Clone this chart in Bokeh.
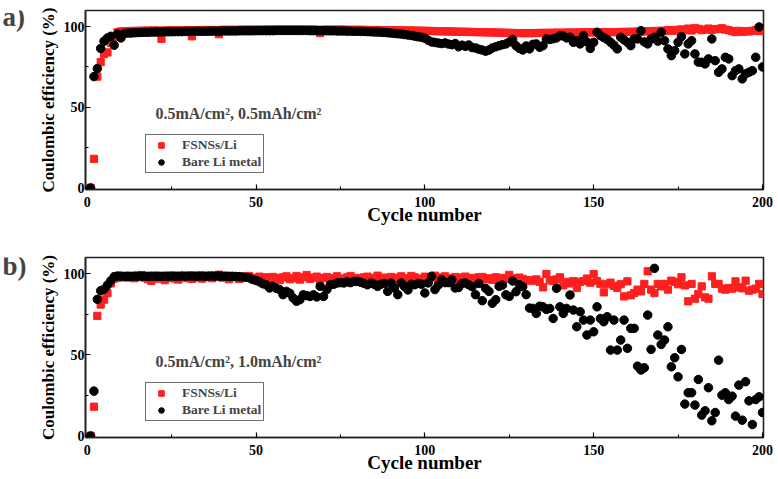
from bokeh.plotting import figure
from bokeh.layouts import column, row
from bokeh.models import Range1d, SingleIntervalTicker, Label
from bokeh.embed import file_html
from bokeh.resources import INLINE

cycles = list(range(1, 201))
x_ticks_interval = 50
y_ticks_interval = 50
series_names = ["FSNSs/Li", "Bare Li metal"]
conditions = ["0.5mA/cm\u00b2, 0.5mAh/cm\u00b2", "0.5mA/cm\u00b2, 1.0mAh/cm\u00b2"]
panel_tags = ["a)", "b)"]

# Panel a) FSNSs/Li
a_fsns = [
    0, 18, 69, 78, 83, 84, 90, 93.5, 96.5, 97.0,
    97.1, 97.2, 97.3, 97.3, 97.4, 97.4, 97.5, 97.5, 97.5, 97.6,
    97.6, 92.4, 97.6, 97.7, 97.7, 97.7, 97.7, 97.8, 97.8, 97.8,
    94.0, 97.8, 97.8, 97.9, 97.9, 97.9, 97.9, 97.9, 95.3, 98.0,
    98.0, 98.0, 98.0, 98.0, 98.0, 98.1, 98.1, 98.1, 98.1, 98.1,
    98.1, 98.1, 98.2, 98.2, 98.2, 98.2, 98.2, 98.2, 98.2, 98.2,
    98.2, 98.2, 98.2, 98.2, 98.2, 98.2, 98.2, 98.1, 96.0, 98.1,
    98.1, 98.1, 98.1, 98.1, 98.1, 98.1, 98.0, 98.0, 98.0, 98.0,
    98.0, 98.0, 97.9, 97.9, 97.9, 97.9, 97.8, 97.8, 97.8, 97.8,
    97.7, 97.7, 97.7, 97.6, 97.6, 97.6, 97.5, 97.5, 97.4, 97.4,
    97.3, 97.3, 97.2, 97.2, 97.1, 97.1, 97.0, 97.0, 96.9, 96.9,
    96.8, 96.8, 96.7, 96.7, 96.6, 96.6, 96.5, 96.5, 96.4, 96.4,
    96.3, 96.3, 96.2, 96.2, 96.1, 96.1, 96.0, 96.0, 96.0, 96.0,
    96.0, 96.0, 96.0, 96.1, 96.1, 96.1, 96.1, 96.2, 96.2, 96.2,
    96.2, 96.3, 96.3, 96.3, 96.3, 96.4, 96.4, 96.4, 96.4, 96.5,
    96.5, 96.5, 96.5, 96.6, 96.6, 96.6, 96.6, 96.7, 96.7, 96.7,
    96.8, 96.8, 96.9, 96.9, 97.0, 97.2, 96.8, 97.3, 97.0, 97.5,
    97.2, 97.8, 97.4, 98.0, 97.5, 98.3, 97.8, 98.8, 97.6, 99.0,
    98.6, 97.8, 98.2, 98.8, 98.0, 98.4, 98.6, 99.0, 98.2, 97.8,
    97.2, 96.6, 97.4, 96.8, 97.2, 97.0, 97.4, 97.8, 97.2, 97.6,
]

# Panel a) Bare Li metal
a_bare = [
    0, 69, 74, 86.5, 91, 93, 94, 88.5, 95.5, 93,
    95.8, 96.0, 96.0, 96.2, 96.3, 96.4, 96.5, 96.5, 96.6, 96.6,
    96.7, 96.7, 96.8, 96.8, 96.8, 96.9, 96.9, 96.9, 97.0, 97.0,
    97.0, 97.1, 97.1, 97.1, 97.1, 97.2, 97.2, 97.2, 97.2, 97.3,
    97.3, 97.3, 97.3, 97.3, 97.4, 97.4, 97.4, 97.4, 97.4, 97.5,
    97.5, 97.5, 97.5, 97.5, 97.5, 97.6, 97.6, 97.6, 97.6, 97.6,
    97.6, 97.6, 97.6, 97.6, 97.6, 97.5, 97.5, 97.5, 97.5, 97.5,
    97.4, 97.4, 97.4, 97.3, 97.3, 97.3, 97.2, 97.2, 97.1, 97.1,
    97.0, 97.0, 96.9, 96.8, 96.7, 96.6, 96.5, 96.4, 96.2, 96.0,
    95.8, 95.6, 95.4, 95.1, 94.8, 94.5, 94.1, 93.7, 93.4, 92.8,
    91.5, 90.5, 90.2, 89.8, 89.5, 89.9, 89.2, 88.8, 89.5, 87.5,
    88.5, 87.8, 88.6, 87.0, 86.8, 86.0, 85.5, 84.8, 85.5, 86.8,
    87.5, 88.2, 88.8, 89.3, 90.5, 92.0, 88.2, 86.5, 85.5, 88.0,
    86.2, 89.0, 89.3, 87.2, 88.2, 92.4, 92.0, 92.5, 93.0, 94.4,
    94.2, 93.0, 93.4, 90.3, 91.3, 89.3, 94.4, 90.5, 86.5, 90.3,
    96.5, 94.4, 93.2, 92.0, 90.3, 88.5, 86.2, 93.4, 91.8, 90.3,
    88.2, 92.4, 92.4, 97.5, 90.5, 89.3, 92.4, 93.4, 91.0, 96.5,
    91.3, 86.2, 82.0, 85.1, 90.3, 93.8, 83.1, 89.3, 91.3, 83.1,
    78.0, 77.9, 76.9, 80.0, 92.4, 78.9, 71.7, 73.8, 81.0, 80.0,
    69.6, 72.7, 73.8, 67.6, 70.7, 71.7, 72.7, 81.0, 99.8, 75.0,
]

# Panel b) FSNSs/Li
b_fsns = [
    0, 18, 74, 81, 84, 88, 94, 97, 97.5, 97.8,
    98.0, 97.6, 98.4, 97.2, 98.8, 99.2, 97.5, 96.6, 95.6, 97.8,
    97.0, 98.2, 96.0, 97.4, 98.0, 97.0, 96.4, 97.6, 98.0, 97.2,
    96.8, 97.6, 98.2, 97.0, 97.8, 98.4, 97.2, 98.6, 99.4, 97.6,
    98.0, 96.6, 98.4, 97.8, 96.8, 98.2, 97.6, 98.6, 96.8, 97.4,
    98.2, 97.0, 97.8, 96.2, 98.0, 97.4, 96.0, 97.8, 98.4, 96.6,
    97.2, 98.6, 96.4, 97.8, 99.2, 96.8, 97.6, 98.2, 95.8, 97.4,
    98.0, 96.6, 97.2, 98.4, 97.0, 96.2, 97.8, 98.6, 96.8, 97.4,
    96.0, 97.8, 98.2, 96.6, 97.4, 98.8, 96.8, 97.6, 95.6, 98.0,
    97.5, 96.8, 98.4, 97.2, 96.4, 98.6, 97.8, 96.2, 97.0, 98.2,
    96.8, 97.6, 98.8, 96.4, 97.8, 98.4, 96.6, 97.2, 98.0, 96.8,
    97.6, 98.2, 96.4, 97.4, 96.0, 97.8, 98.0, 96.6, 97.2, 96.2,
    97.8, 96.6, 97.4, 96.8, 99.3, 97.2, 96.4, 97.6, 96.8, 95.8,
    96.0, 95.7, 96.5, 95.0, 91.6, 99.8, 96.0, 95.5, 96.5, 97.8,
    92.8, 95.0, 94.0, 95.5, 91.2, 95.0, 95.5, 97.0, 94.5, 99.8,
    95.5, 93.8, 88.5, 93.5, 94.5, 92.5, 91.2, 93.5, 86.0, 95.3,
    86.7, 88.1, 90.2, 89.1, 93.7, 101.5, 90.2, 88.1, 93.7, 92.2,
    93.7, 90.2, 95.7, 95.0, 93.5, 97.8, 92.8, 83.0, 93.7, 84.6,
    87.5, 92.2, 85.4, 84.6, 98.4, 93.7, 93.7, 90.8, 90.2, 91.2,
    90.8, 95.3, 91.6, 91.0, 95.7, 89.5, 90.2, 90.8, 93.7, 87.5,
]

# Panel b) Bare Li metal
b_bare = [
    0, 27.6, 84.2, 89.5, 90.4, 93.0, 95.7, 98.2, 98.6, 98.5,
    98.4, 98.5, 98.4, 98.5, 98.4, 98.5, 98.5, 98.4, 98.5, 98.5,
    98.5, 98.4, 98.5, 98.5, 98.6, 98.5, 98.5, 98.6, 98.5, 98.6,
    98.6, 98.5, 98.6, 98.6, 98.5, 98.6, 98.6, 98.5, 98.6, 98.5,
    98.5, 98.4, 98.4, 98.3, 98.2, 98.0, 97.8, 97.5, 96.5, 95.8,
    95.0, 93.8, 93.2, 91.2, 92.2, 91.0, 90.2, 87.1, 89.1, 88.0,
    85.0, 83.0, 84.0, 87.0, 86.5, 86.0, 87.0, 85.7, 92.2, 86.0,
    90.2, 93.2, 93.5, 94.3, 94.5, 94.3, 95.0, 94.5, 95.3, 95.3,
    94.8, 94.0, 93.2, 94.2, 93.5, 92.2, 93.5, 94.0, 89.1, 94.3,
    91.2, 87.1, 94.3, 92.0, 90.0, 93.5, 93.2, 94.0, 93.5, 88.1,
    94.3, 98.4, 90.2, 93.0, 96.3, 94.5, 94.5, 96.3, 91.2, 91.5,
    94.0, 94.3, 93.2, 92.0, 87.1, 94.0, 83.4, 91.0, 89.1, 81.8,
    84.0, 92.2, 93.0, 87.0, 86.0, 95.5, 88.9, 93.2, 92.0, 87.1,
    78.8, 78.6, 75.5, 80.0, 79.6, 78.0, 78.6, 72.4, 91.0, 79.6,
    75.5, 78.6, 86.9, 77.6, 67.3, 76.6, 71.4, 62.2, 71.4, 64.2,
    79.6, 72.4, 70.4, 73.5, 52.9, 71.4, 52.9, 59.1, 71.4, 54.0,
    66.3, 66.3, 43.0, 40.6, 42.0, 74.5, 53.3, 103.3, 62.2, 56.4,
    59.1, 67.3, 42.6, 48.2, 36.4, 53.3, 19.6, 26.6, 26.6, 19.0,
    34.8, 12.8, 15.5, 29.7, 9.3, 14.4, 46.7, 25.1, 26.6, 22.4,
    24.5, 12.2, 31.3, 9.7, 33.4, 21.6, 7.0, 22.4, 24.1, 14.4,
]

for arr in (a_fsns, a_bare, b_fsns, b_bare):
    assert len(arr) == 200, len(arr)

FONT = "Liberation Serif"
TAG_W = 30


def make_tag(tag, height, center_from_top):
    t = figure(width=TAG_W, height=height, output_backend="svg", toolbar_location=None,
               x_range=Range1d(0, TAG_W), y_range=Range1d(0, height), min_border=0,
               x_axis_location=None, y_axis_location=None)
    t.grid.visible = False
    t.outline_line_color = None
    t.add_layout(Label(x=2, y=height - center_from_top, text=tag, text_font=FONT,
                       text_font_style="bold", text_font_size="27px",
                       text_baseline="middle", text_align="left"))
    return t


def make_panel(cond, red, black, height, top, bottom):
    p = figure(width=778 - TAG_W, height=height, output_backend="svg", toolbar_location=None,
               x_range=Range1d(-0.5, 200.3), y_range=Range1d(-1, 110),
               min_border_left=85 - TAG_W, min_border_right=15,
               min_border_top=top, min_border_bottom=bottom)
    p.outline_line_color = "#222222"
    p.outline_line_width = 1.6
    p.xgrid.visible = False
    p.ygrid.visible = False

    p.scatter(cycles, red, marker="square", size=7.2, color="#ff1f1f",
              legend_label=series_names[0])
    p.scatter(cycles, black, marker="circle", size=8.5, color="black",
              legend_label=series_names[1])

    p.xaxis.ticker = SingleIntervalTicker(interval=x_ticks_interval, num_minor_ticks=2)
    p.yaxis.ticker = SingleIntervalTicker(interval=y_ticks_interval, num_minor_ticks=2)
    for ax in (p.xaxis, p.yaxis):
        ax.major_tick_in = 5
        ax.major_tick_out = 0
        ax.minor_tick_in = 3
        ax.minor_tick_out = 0
        ax.axis_line_color = "#222222"
        ax.axis_line_width = 1.6
        ax.major_tick_line_width = 1.2
        ax.major_label_text_font = FONT
        ax.major_label_text_font_style = "bold"
        ax.major_label_text_font_size = "14px"
        ax.major_label_text_color = "black"
        ax.axis_label_text_font = FONT
        ax.axis_label_text_font_style = "bold"
        ax.axis_label_text_color = "black"
    p.xaxis.axis_label = "Cycle number"
    p.xaxis.axis_label_text_font_size = "19px"
    p.xaxis.major_label_standoff = 7
    p.xaxis.axis_label_standoff = -6
    p.yaxis.axis_label = "Coulombic efficiency (%)"
    p.yaxis.axis_label_text_font_size = "17px"
    p.yaxis.major_label_standoff = 1
    p.yaxis.axis_label_standoff = 3

    lg = p.legend[0]
    lg.location = (60, 16)
    lg.margin = 0
    lg.padding = 2
    lg.spacing = 1
    lg.label_height = 14
    lg.glyph_height = 14
    lg.glyph_width = 26
    lg.label_standoff = 8
    lg.label_text_font = FONT
    lg.label_text_font_style = "bold"
    lg.label_text_font_size = "13.5px"
    lg.border_line_color = "#707070"
    lg.border_line_width = 1.2
    lg.border_line_alpha = 1.0
    lg.background_fill_alpha = 1

    p.add_layout(Label(x=20.2, y=46, text=cond, text_font=FONT, text_font_style="bold",
                       text_font_size="16px", text_baseline="middle", text_align="left"))
    return p


H_A, H_B = 232, 247
ta = make_tag(panel_tags[0], H_A, 8)
pa = make_panel(conditions[0], a_fsns, a_bare, H_A, 10, 43)
tb = make_tag(panel_tags[1], H_B, 12)
pb = make_panel(conditions[1], b_fsns, b_bare, H_B, 25, 42)

layout = column(row(ta, pa, spacing=0), row(tb, pb, spacing=0), spacing=0)
open("out.html", "w").write(file_html(layout, INLINE))
